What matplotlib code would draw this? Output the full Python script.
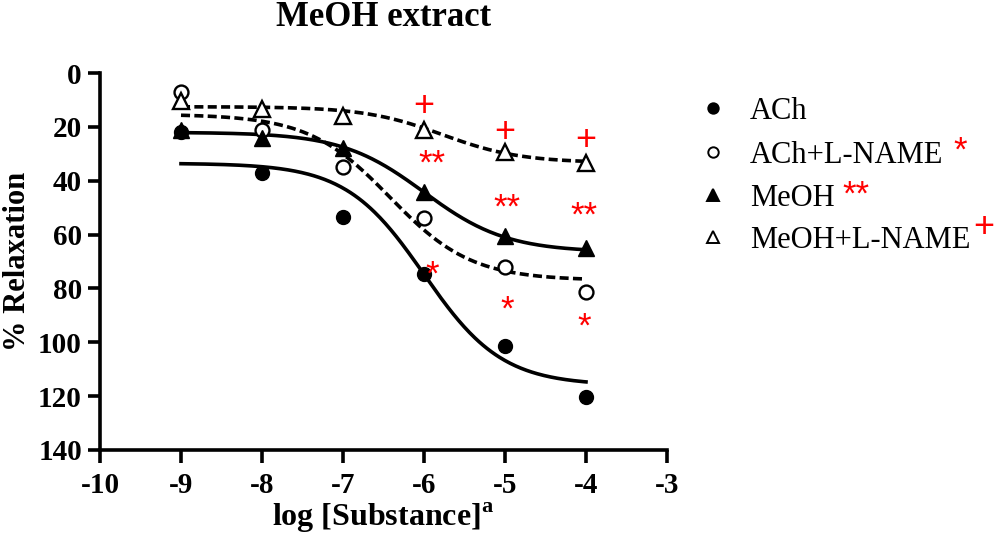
import numpy as np
import matplotlib
matplotlib.use("Agg")
import matplotlib.pyplot as plt
from matplotlib.lines import Line2D

# ---- data ----
log_conc = [-9, -8, -7, -6, -5, -4]
ach = [22, 37, 53.5, 74.5, 101.5, 120.5]
ach_lname = [7, 21, 35, 54, 72, 81.5]
meoh = [21, 24, 28, 44, 60.5, 65]
meoh_lname = [10.5, 13.5, 16, 21, 29.5, 33.5]

# fitted sigmoid parameters (top, bottom, logEC50, hill)
fit_ach = (33.5, 116.0, -6.0, 0.9)
fit_ach_lname = (15.3, 77.0, -6.42, 0.86)
fit_meoh = (22.0, 66.5, -6.0, 0.85)
fit_meoh_lname = (12.5, 33.3, -5.77, 0.9)

# significance marks (x, y)
marks_plus = [(-6, 12.5), (-5, 22.2), (-4, 25.2)]
marks_2star = [(-5.9, 34), (-4.97, 50), (-4.02, 53.2)]
marks_1star = [(-5.9, 75), (-4.97, 88), (-4.02, 94.5)]

series_labels = ["ACh", "ACh+L-NAME", "MeOH", "MeOH+L-NAME"]
series_suffix = ["", "*", "**", "+"]

plt.rcParams['font.family'] = ['Liberation Serif', 'DejaVu Serif']
plt.rcParams['axes.unicode_minus'] = False
plt.rcParams['mathtext.fontset'] = 'custom'
plt.rcParams['mathtext.rm'] = 'Liberation Serif'
plt.rcParams['mathtext.bf'] = 'Liberation Serif:bold'

fig = plt.figure(figsize=(10, 5.4), dpi=100)
ax = fig.add_axes([0.1, 0.1667, 0.567, 0.698])


def four_pl(x, p):
    top, bottom, ec50, hill = p
    return top + (bottom - top) / (1 + 10 ** ((ec50 - x) * hill))


xs = np.linspace(log_conc[0], log_conc[-1], 300)
lw = 2.6
dash = (0, (2.5, 1.2))
ms = 10
ax.plot(xs, four_pl(xs, fit_ach), color='black', lw=lw)
ax.plot(xs, four_pl(xs, fit_ach_lname), color='black', lw=lw, ls=dash)
ax.plot(xs, four_pl(xs, fit_meoh), color='black', lw=lw)
ax.plot(xs, four_pl(xs, fit_meoh_lname), color='black', lw=lw, ls=dash)

ax.plot(log_conc, ach, 'o', color='black', ms=ms, ls='none', clip_on=False)
ax.plot(log_conc, ach_lname, 'o', mfc='white', mec='black', mew=1.7, ms=ms, ls='none', clip_on=False)
ax.plot(log_conc, meoh, '^', color='black', ms=ms + 1, ls='none', clip_on=False)
ax.plot(log_conc, meoh_lname, '^', mfc='white', mec='black', mew=1.7, ms=ms + 1, ls='none', clip_on=False)

for x, y in marks_plus:
    ax.text(x, y, "+", color='red', fontsize=26, family='Liberation Sans', ha='center', va='center')
for x, y in marks_2star:
    ax.text(x, y, "**", color='red', fontsize=25, family='Liberation Sans', ha='center', va='center')
for x, y in marks_1star:
    ax.text(x, y, "*", color='red', fontsize=25, family='Liberation Sans', ha='center', va='center')

ax.set_xlim(-10, -3)
ax.set_ylim(140, 0)
ax.set_xticks(range(-10, -2))
ax.set_yticks(range(0, 141, 20))
for s in ['top', 'right']:
    ax.spines[s].set_visible(False)
for s in ['left', 'bottom']:
    ax.spines[s].set_linewidth(2.6)
ax.tick_params(width=2.6, length=9, labelsize=21)
ax.tick_params(axis='x', pad=7)
ax.tick_params(axis='y', pad=4)
for lab in ax.get_xticklabels() + ax.get_yticklabels():
    lab.set_fontweight('bold')

ax.set_xlabel(r"log [Substance]$^{\mathbf{a}}$", fontsize=23, fontweight='bold')
ax.xaxis.set_label_coords(0.5, -0.135)
ax.set_ylabel("% Relaxation", fontsize=22, fontweight='bold')
ax.yaxis.set_label_coords(-0.12, 0.5)
ax.set_title("MeOH extract", fontsize=25, fontweight='bold', pad=34)

# legend (drawn manually to allow red suffixes)
leg_y = [108, 152, 195, 237]
leg_marker_x = 713
leg_text_x = 750
handles = [
    dict(marker='o', mfc='black', mec='black', ms=7.5),
    dict(marker='o', mfc='white', mec='black', ms=7.5),
    dict(marker='^', mfc='black', mec='black', ms=8),
    dict(marker='^', mfc='white', mec='black', ms=8),
]
suffix_gap = {"*": 10, "**": 8, "+": 3}
suffix_rise = {"*": 1, "**": 0, "+": 9}
W, H = 1000.0, 540.0
fig.canvas.draw()
renderer = fig.canvas.get_renderer()
for yy, lab, suf, hd in zip(leg_y, series_labels, series_suffix, handles):
    fy = 1 - yy / H
    fig.add_artist(Line2D([leg_marker_x / W], [fy], transform=fig.transFigure,
                          ls='none', mew=1.4, **hd))
    t = fig.text(leg_text_x / W, fy, lab, fontsize=22, ha='left', va='center_baseline')
    if suf:
        bb = t.get_window_extent(renderer)
        fx = (bb.x1 + suffix_gap[suf]) / W
        fig.text(fx, fy + suffix_rise[suf] / H, suf, color='red',
                 fontsize=26 if suf == '+' else 25,
                 family='Liberation Sans', ha='left', va='center')

fig.savefig("out.png", dpi=100)
